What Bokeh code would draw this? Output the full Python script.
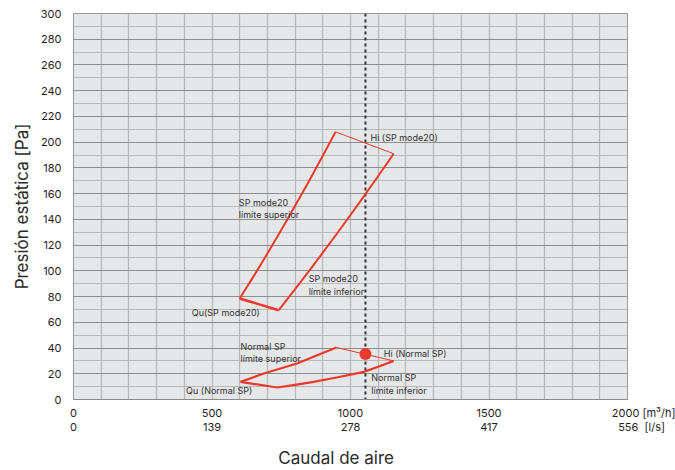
from bokeh.plotting import figure
from bokeh.models import LinearAxis, FixedTicker, Span, Range1d
from bokeh.core.properties import value
from bokeh.embed import file_html
from bokeh.resources import INLINE

# ---- data ----
# SP mode20 envelope
sp20_sup_x = [600, 650, 700, 750, 800, 850, 900, 946]
sp20_sup_y = [78.5, 95.7, 113.4, 131.7, 150.5, 169.7, 189.4, 208]
sp20_inf_x = [741, 800, 850, 900, 952, 1000, 1050, 1100, 1156]
sp20_inf_y = [69.4, 85.7, 99.8, 114.1, 129.2, 143.4, 158.4, 173.7, 191]
sp20_top_x = [946, 1156]
sp20_top_y = [208, 191]
sp20_bot_x = [600, 741]
sp20_bot_y = [78.5, 69.4]

# Normal SP envelope
nsp_sup_x = [603, 687, 807, 880, 949]
nsp_sup_y = [13.7, 20.2, 28, 34.4, 40.4]
nsp_inf_x = [735, 800, 867, 950, 1000, 1048, 1100, 1156]
nsp_inf_y = [9.3, 11.4, 13.7, 17.1, 19.3, 21.5, 25.4, 30]
nsp_top_x = [949, 1156]
nsp_top_y = [40.4, 30]
nsp_bot_x = [603, 735]
nsp_bot_y = [13.7, 9.3]

hi_x = [1054]
hi_y = [35.3]
design_flow = 1054

NB = "\u00a0"
EM = "\u2003"
x_ticks = [0, 500, 1000, 1500, 2000]
x_ticks_m3h = ["0", "500", "1000", "1500", EM * 3 + NB * 2 + "2000" + NB + "[m³/h]"]
x_ticks_ls = ["0", "139", "278", "417", EM * 2 + NB * 2 + "556" + NB * 2 + "[l/s]"]
x_grid = list(range(0, 2001, 100))
y_ticks = list(range(0, 301, 20))
y_minor = list(range(0, 301, 10))

left_lab_text = ["Hi (SP mode20)", "SP mode20", "límite superior", "SP mode20", "límite inferior",
                 "Normal SP", "límite superior", "Hi (Normal SP)", "Normal SP", "límite inferior"]
left_lab_x = [1072, 597, 597, 849, 849, 603, 603, 1120, 1075, 1075]
left_lab_y = [204.0, 152.8, 144.0, 94.0, 84.1, 40.9, 31.5, 36.0, 16.8, 7.2]
ctr_lab_text = ["Qu(SP mode20)", "Qu (Normal SP)"]
ctr_lab_x = [550, 526]
ctr_lab_y = [67.3, 7.2]

RED = "#ea3a2d"
FONT = "Inter"
TXT = "#1e1e1e"

p = figure(frame_width=554, frame_height=386, x_range=Range1d(0, 2000), y_range=Range1d(0, 300),
           output_backend="svg", toolbar_location=None,
           min_border_left=73, min_border_right=48, min_border_top=13, min_border_bottom=20)
p.border_fill_color = "white"
p.outline_line_color = "#9a9a9a"
p.background_fill_color = "#e6e7e9"

ya = p.yaxis[0]
ya.ticker = FixedTicker(ticks=y_ticks, minor_ticks=y_minor)
ya.axis_line_color = None
ya.major_tick_line_color = None
ya.minor_tick_line_color = None
ya.major_label_standoff = 6
ya.major_label_text_font = FONT
ya.major_label_text_font_size = "11px"
ya.major_label_text_font_style = "normal"
ya.major_label_text_color = TXT
ya.axis_label = "Presión estática [Pa]"
ya.axis_label_text_font = FONT
ya.axis_label_text_font_size = "17px"
ya.axis_label_text_font_style = "normal"
ya.axis_label_text_color = "#2a2a2a"
ya.axis_label_standoff = 6

xa = p.xaxis[0]
xa.ticker = FixedTicker(ticks=x_ticks)
xa.major_label_overrides = {t: s for t, s in zip(x_ticks, x_ticks_m3h)}
xa.axis_line_color = "#8a8a8a"
xa.major_tick_line_color = None
xa.minor_tick_line_color = None
xa.major_label_standoff = 0
xa.major_label_text_font = FONT
xa.major_label_text_font_size = "11px"
xa.major_label_text_color = TXT

xa2 = LinearAxis(ticker=FixedTicker(ticks=x_ticks),
                 major_label_overrides={t: s for t, s in zip(x_ticks, x_ticks_ls)})
xa2.axis_line_color = None
xa2.major_tick_line_color = None
xa2.minor_tick_line_color = None
xa2.major_label_standoff = -9
xa2.major_label_text_font = FONT
xa2.major_label_text_font_size = "11px"
xa2.major_label_text_color = TXT
xa2.axis_label = "Caudal de aire" + NB * 6
xa2.axis_label_text_font = FONT
xa2.axis_label_text_font_size = "17px"
xa2.axis_label_text_font_style = "normal"
xa2.axis_label_text_color = "#2a2a2a"
xa2.axis_label_standoff = 11
p.add_layout(xa2, "below")

p.xgrid[0].ticker = FixedTicker(ticks=x_grid)
p.xgrid[0].grid_line_color = "#b9b9bb"
p.xgrid[0].grid_line_width = 1.3
p.ygrid[0].grid_line_color = "#8e8e90"
p.ygrid[0].grid_line_width = 1.2
p.ygrid[0].minor_grid_line_color = "#b9b9bb"
p.ygrid[0].minor_grid_line_width = 1.2

p.add_layout(Span(location=design_flow, dimension="height", line_color="#333333",
                  line_width=2, line_dash="3 3", level="underlay"))

for xs, ys, w in [(sp20_sup_x, sp20_sup_y, 2), (sp20_inf_x, sp20_inf_y, 2),
                  (sp20_top_x, sp20_top_y, 1), (sp20_bot_x, sp20_bot_y, 2.5),
                  (nsp_sup_x, nsp_sup_y, 2.2), (nsp_inf_x, nsp_inf_y, 2.2),
                  (nsp_top_x, nsp_top_y, 1), (nsp_bot_x, nsp_bot_y, 2.2)]:
    p.line(xs, ys, line_color=RED, line_width=w, line_join="round")

p.scatter(hi_x, hi_y, size=12, fill_color=RED, line_color=None)

p.text(x=left_lab_x, y=left_lab_y, text=left_lab_text, text_font=value(FONT),
       text_font_size="9px", text_color="#333333", text_align="left", text_baseline="middle")
p.text(x=ctr_lab_x, y=ctr_lab_y, text=ctr_lab_text, text_font=value(FONT),
       text_font_size="9px", text_color="#333333", text_align="center", text_baseline="middle")

open("out.html", "w").write(file_html(p, INLINE))
